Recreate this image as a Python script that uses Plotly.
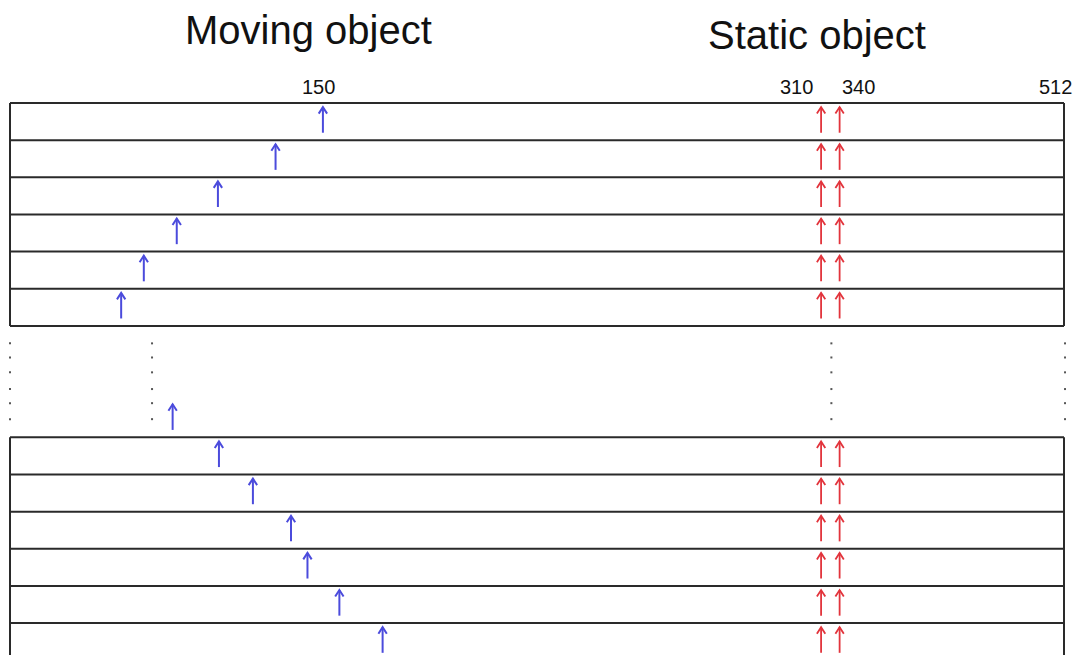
import plotly.graph_objects as go

# ---------------- data ----------------
moving_top = [152, 129, 101, 81, 65, 54]          # blue arrow positions, upper rows
moving_gap = [79]                                  # blue arrow inside the gap
moving_bottom = [101.5, 118, 136.5, 144.5, 160, 181]  # blue arrow positions, lower rows
static_x = [394, 403]                              # red arrows (static object)
tick_labels = ["150", "310", "340", "512"]
tick_label_x = [150, 382, 412, 508]
titles = ["Moving object", "Static object"]
title_x = [145, 392]
title_y = [-1.97, -1.82]
dotted_x = [0, 69, 399, 512.5]
dots_y = [6.47, 6.85, 7.25, 7.70, 8.08, 8.51]
x_max = 512
top_rows = 6
gap_rows = 3
bottom_rows = 6

BLUE = "#4b4bdc"
RED = "#e2343c"
LINE = "#2a2a2a"

# ---------------- geometry helpers ----------------
PAGE_OFF = 8  # default body margin of the page
PX_PER_X = 1054 / 512.0
ROW_PX = 37.15
HEAD_DX = 4.2 / PX_PER_X
HEAD_DY = 6.5 / ROW_PX
HEAD_OFF = 0.11
TAIL_OFF = 0.80

top_row_idx = list(range(top_rows))
bottom_start = top_rows + gap_rows
bottom_row_idx = list(range(bottom_start, bottom_start + bottom_rows))
gap_row_idx = [top_rows + gap_rows - 1]


def arrow_path(xs, rows):
    px, py = [], []
    for x, r in zip(xs, rows):
        head = r + HEAD_OFF
        tail = r + TAIL_OFF
        px += [x, x, None, x - HEAD_DX, x, x + HEAD_DX, None]
        py += [tail, head, None, head + HEAD_DY, head, head + HEAD_DY, None]
    return px, py


fig = go.Figure()

# box lines
lx, ly = [], []
for k in range(top_rows + 1):
    lx += [0, x_max, None]; ly += [k, k, None]
for k in range(bottom_start, bottom_start + bottom_rows + 1):
    lx += [0, x_max, None]; ly += [k, k, None]
for xv in [0, x_max]:
    lx += [xv, xv, None, xv, xv, None]
    ly += [0, top_rows, None, bottom_start, bottom_start + bottom_rows, None]
fig.add_trace(go.Scatter(x=lx, y=ly, mode="lines", line=dict(color=LINE, width=2),
                         hoverinfo="skip", showlegend=False))

# dotted columns
dx, dy = [], []
for xv in dotted_x:
    for yv in dots_y:
        dx.append(xv); dy.append(yv)
fig.add_trace(go.Scatter(x=dx, y=dy, mode="markers",
                         marker=dict(color="#555555", size=2, symbol="square"),
                         hoverinfo="skip", showlegend=False))

# blue arrows
bx = moving_top + moving_gap + moving_bottom
brows = top_row_idx + gap_row_idx + bottom_row_idx
px, py = arrow_path(bx, brows)
fig.add_trace(go.Scatter(x=px, y=py, mode="lines", line=dict(color=BLUE, width=2),
                         hoverinfo="skip", showlegend=False))

# red arrows
rx, rrows = [], []
for r in top_row_idx + bottom_row_idx:
    for s in static_x:
        rx.append(s); rrows.append(r)
px, py = arrow_path(rx, rrows)
fig.add_trace(go.Scatter(x=px, y=py, mode="lines", line=dict(color=RED, width=1.8),
                         hoverinfo="skip", showlegend=False))

# tick labels
for t, xv in zip(tick_labels, tick_label_x):
    fig.add_annotation(x=xv, y=-0.43, text=t, showarrow=False,
                       font=dict(family="Liberation Sans, Arial", size=20, color="#111111"))

# titles
for t, xv, yv in zip(titles, title_x, title_y):
    fig.add_annotation(x=xv, y=yv, text=t, showarrow=False,
                       font=dict(family="Liberation Sans, Arial", size=40, color="#111111"))

# axis ranges: box from page px 10..1064 horizontally, top line at page px 103
left_px = 10 - PAGE_OFF
top_px = 103 - PAGE_OFF
x0 = -left_px / PX_PER_X
x1 = (1081 - left_px) / PX_PER_X
y_top = -top_px / ROW_PX
y_bot = (655 - top_px) / ROW_PX

fig.update_layout(
    width=1081, height=655,
    margin=dict(l=0, r=0, t=0, b=0),
    paper_bgcolor="white", plot_bgcolor="white",
    xaxis=dict(range=[x0, x1], visible=False, fixedrange=True),
    yaxis=dict(range=[y_bot, y_top], visible=False, fixedrange=True),
)

fig.write_html("out.html")
